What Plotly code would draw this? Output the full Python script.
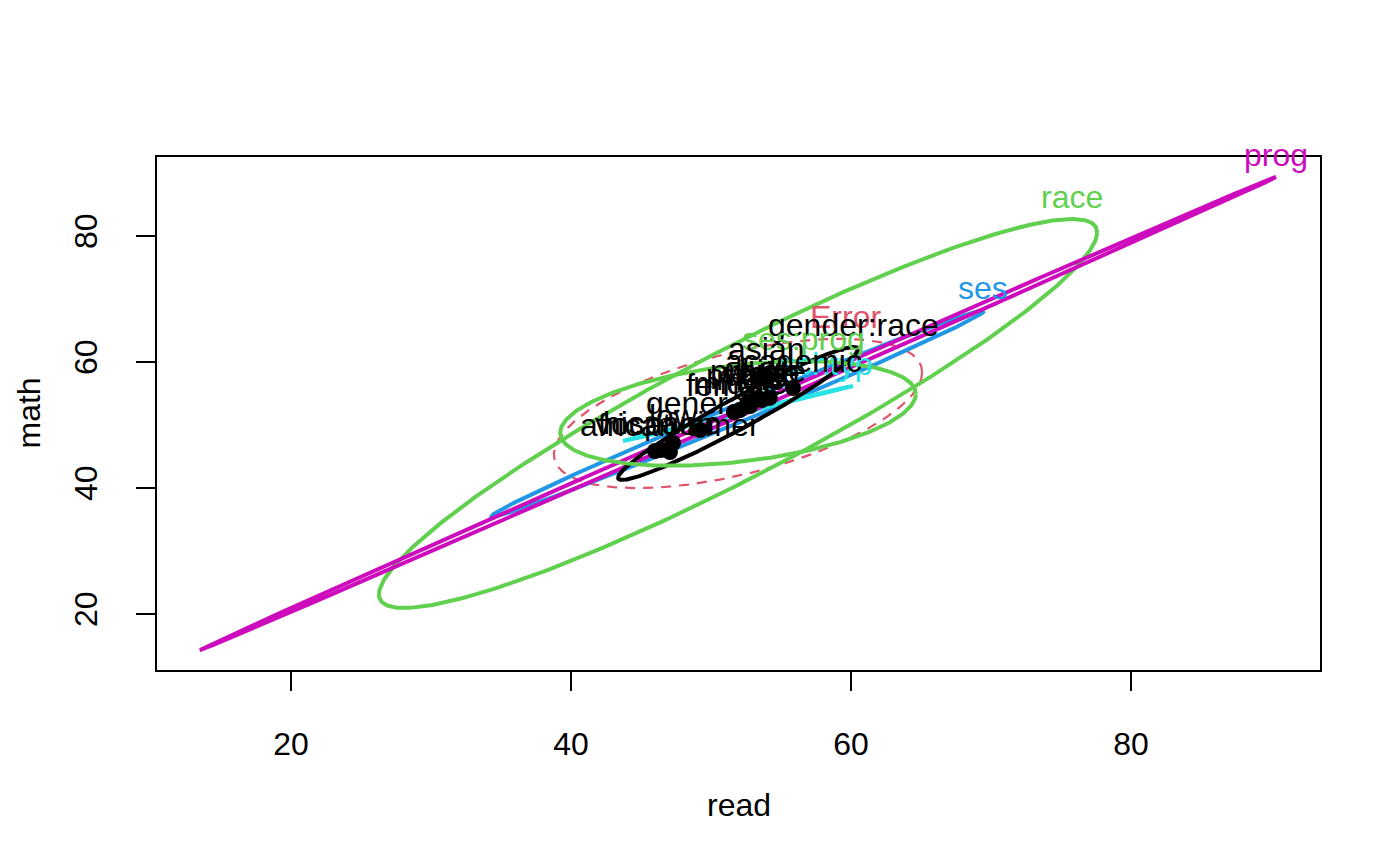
import numpy as np
import plotly.graph_objects as go

# grand mean (centre of every ellipse)
center_read = 51.93
center_math = 51.83

# HE ellipses: half extents in read / math and the correlation of each
terms = ["Error", "race", "ses", "schtyp", "prog", "gender:race", "ses:prog"]
half_read = [13.15, 25.65, 17.6, 8.21, 38.43, 8.57, 12.7]
half_math = [11.85, 30.87, 16.37, 4.37, 37.54, 10.55, 8.3]
corr = [0.55, 0.93, 0.9956, 0.9995, 0.99988, 0.965, 0.37]

# group means
group_labels = ["vocation", "hispanic", "african-amer", "low", "general",
                "female", "middle", "male", "public", "private", "white",
                "high", "asian", "academic"]
group_read = [46.0, 46.43, 47.07, 47.29, 49.21, 51.64, 52.07, 52.79,
              52.64, 53.36, 53.64, 54.2, 53.93, 55.86]
group_math = [45.87, 46.03, 45.71, 47.14, 49.21, 52.06, 52.38, 53.02,
              53.65, 54.29, 53.97, 54.3, 57.78, 55.87]

x_ticks = [20, 40, 60, 80]
y_ticks = [20, 40, 60, 80]

colors = {
    "Error": "#DF536B", "race": "#61D04F", "ses": "#2297E6", "schtyp": "#28E2E5",
    "prog": "#CD0BBC", "gender:race": "#000000", "ses:prog": "#61D04F",
}
# small nudges so crowded labels sit where the original put them
label_xshift = {"schtyp": -27, "Error": 6}
FONT = "Liberation Sans, Arial, sans-serif"

fig = go.Figure()
t = np.linspace(0, 2 * np.pi, 400)
annotations = []
for name, sx, sy, r in zip(terms, half_read, half_math, corr):
    ex = center_read + sx * np.cos(t)
    ey = center_math + sy * (r * np.cos(t) + np.sqrt(1 - r ** 2) * np.sin(t))
    is_err = name == "Error"
    fig.add_trace(go.Scatter(
        x=ex, y=ey, mode="lines", hoverinfo="skip",
        line=dict(color=colors[name], width=2.2 if is_err else 4,
                  dash="10px,8px" if is_err else "solid"),
    ))
    # label above the top of the ellipse
    annotations.append(dict(
        x=center_read + r * sx, y=center_math + sy, text=name,
        showarrow=False, yshift=22, xshift=label_xshift.get(name, 0),
        xanchor="center", yanchor="middle",
        font=dict(family=FONT, size=32, color=colors[name]),
    ))

fig.add_trace(go.Scatter(
    x=group_read, y=group_math, mode="markers", hoverinfo="skip",
    marker=dict(color="black", size=16),
))
for lab, gx, gy in zip(group_labels, group_read, group_math):
    annotations.append(dict(
        x=gx, y=gy, text=lab, showarrow=False, yshift=27,
        xanchor="center", yanchor="middle",
        font=dict(family=FONT, size=32, color="black"),
    ))

annotations.append(dict(
    x=0.5, y=0, xref="paper", yref="paper", text="read", showarrow=False,
    yshift=-135, xanchor="center", yanchor="middle",
    font=dict(family=FONT, size=32, color="black"),
))
annotations.append(dict(
    x=0, y=0.5, xref="paper", yref="paper", text="math", showarrow=False,
    xshift=-129, xanchor="center", yanchor="middle", textangle=-90,
    font=dict(family=FONT, size=32, color="black"),
))

axis_common = dict(
    showgrid=False, zeroline=False, showline=True, linecolor="black",
    linewidth=2, mirror=True, ticks="outside", ticklen=19, tickwidth=2,
    tickcolor="black", tickfont=dict(family=FONT, size=32, color="black"),
)
fig.update_xaxes(range=[10.43, 93.5], tickvals=x_ticks, ticklabelstandoff=26,
                 **axis_common)
fig.update_yaxes(range=[11.11, 92.54], tickvals=y_ticks, tickangle=-90,
                 ticklabelstandoff=26, **axis_common)

# the page body adds an 8px offset, so the margins are trimmed to match
fig.update_layout(
    width=1400, height=866,
    margin=dict(l=149, r=88, t=149, b=204),
    paper_bgcolor="white", plot_bgcolor="white",
    showlegend=False, annotations=annotations,
)

fig.write_html("out.html")
